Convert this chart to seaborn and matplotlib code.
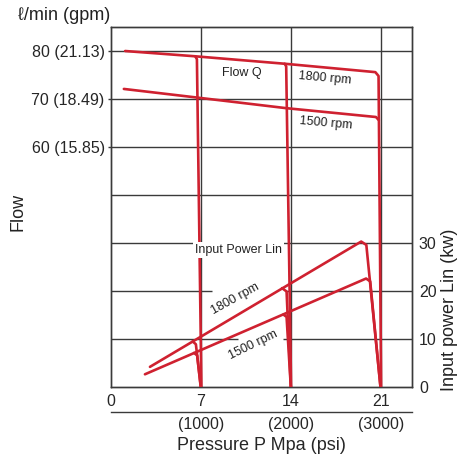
import matplotlib
matplotlib.use("Agg")
import pandas as pd
import matplotlib.pyplot as plt
import seaborn as sns

# Flow curves: pressure (MPa) vs flow (l/min)
q1800_p = [1.1, 6.55, 13.5, 20.55, 20.8, 21.0]
q1800_q = [80.0, 78.9, 77.35, 75.6, 74.8, 10.0]
q1500_p = [1.0, 6.7, 13.6, 20.6, 20.82]
q1500_q = [72.1, 70.3, 68.1, 66.25, 65.6]
q1800_cut7_p = [6.55, 6.68, 7.03]
q1800_cut7_q = [78.9, 78.3, 10.0]
q1800_cut14_p = [13.5, 13.62, 14.0]
q1800_cut14_q = [77.35, 76.8, 10.0]

# Input power curves: pressure (MPa) vs power (kW)
w1800_p = [3.03, 19.45, 19.85, 20.95]
w1800_w = [4.2, 30.3, 29.6, 0.0]
w1500_p = [2.64, 19.83, 20.15, 20.95]
w1500_w = [2.65, 22.6, 22.0, 0.0]
w1800_cut7_p = [6.35, 6.6, 6.98]
w1800_cut7_w = [9.5, 8.9, 0.0]
w1500_cut7_p = [6.45, 6.7, 6.98]
w1500_cut7_w = [7.1, 6.6, 0.0]
w1800_cut14_p = [13.3, 13.65, 13.98]
w1800_cut14_w = [20.6, 19.9, 0.0]
w1500_cut14_p = [13.4, 13.65, 13.98]
w1500_cut14_w = [15.1, 14.6, 0.0]

flow_ticks = [60, 70, 80]
flow_labels = ['60 (15.85)', '70 (18.49)', '80 (21.13)']
power_ticks = [0, 10, 20, 30]
mpa_ticks = [0, 7, 14, 21]
psi_ticks = [7, 14, 21]
psi_labels = ['(1000)', '(2000)', '(3000)']

RED = '#cf2130'
GRID = '#3a3a3a'


def to_long(curves):
    rows = []
    for name, xs, ys in curves:
        for x, y in zip(xs, ys):
            rows.append({'curve': name, 'pressure': x, 'value': y})
    return pd.DataFrame(rows)


flow_df = to_long([
    ('q1800', q1800_p, q1800_q),
    ('q1500', q1500_p, q1500_q),
    ('q1800_7', q1800_cut7_p, q1800_cut7_q),
    ('q1800_14', q1800_cut14_p, q1800_cut14_q),
])
power_df = to_long([
    ('w1800', w1800_p, w1800_w),
    ('w1500', w1500_p, w1500_w),
    ('w1800_7', w1800_cut7_p, w1800_cut7_w),
    ('w1500_7', w1500_cut7_p, w1500_cut7_w),
    ('w1800_14', w1800_cut14_p, w1800_cut14_w),
    ('w1500_14', w1500_cut14_p, w1500_cut14_w),
])

sns.set_style('white')
plt.rcParams['font.family'] = ['Liberation Sans', 'DejaVu Sans']
plt.rcParams['text.color'] = '#222222'

fig = plt.figure(figsize=(4.59, 4.61), dpi=100)
ax = fig.add_axes([0.2418, 0.1605, 0.6558, 0.7809])
xmax = 23.4

# grid: horizontal segments, some with gaps for the rpm labels
ax.hlines([40, 50, 60, 70, 80], 0, xmax, color=GRID, lw=1.0, zorder=1)
ax.hlines([20, 20], [0, 13.38], [9.88, xmax], color=GRID, lw=1.0, zorder=1)
ax.hlines([30, 30], [0, 13.53], [7.86, xmax], color=GRID, lw=1.0, zorder=1)
ax.vlines([7, 14, 21], 10, 85, color=GRID, lw=1.0, zorder=1)

sns.lineplot(data=flow_df, x='pressure', y='value', units='curve', estimator=None,
             sort=False, color=RED, lw=1.9, legend=False, ax=ax, zorder=3)

ax.set_xlim(0, xmax)
ax.set_ylim(10, 85)
ax.set_xticks(mpa_ticks)
ax.set_xticklabels([str(t) for t in mpa_ticks])
ax.set_yticks(flow_ticks)
ax.set_yticklabels(flow_labels)
ax.set_xlabel('')
ax.set_ylabel('')
ax.tick_params(axis='y', length=2.5, width=1, color=GRID, pad=2, labelsize=11.5)
ax.tick_params(axis='x', length=0, pad=5, labelsize=11.5)
for s in ax.spines.values():
    s.set_color(GRID)
    s.set_linewidth(1.0)

ax.text(10.2, 75.5, 'Flow Q', fontsize=9, ha='center', va='center')
ax.text(16.6, 74.4, '1800 rpm', fontsize=9, ha='center', va='center', rotation=-5)
ax.text(16.7, 64.85, '1500 rpm', fontsize=9, ha='center', va='center', rotation=-5)

# power axis on the right
ax2 = ax.twinx()
sns.lineplot(data=power_df, x='pressure', y='value', units='curve', estimator=None,
             sort=False, color=RED, lw=1.9, legend=False, ax=ax2, zorder=3)
ax2.set_ylim(0, 75)
ax2.set_yticks(power_ticks)
ax2.set_ylabel('')
ax2.set_xlabel('')
ax2.tick_params(axis='y', length=0, pad=5, labelsize=11.5)
for s in ax2.spines.values():
    s.set_color(GRID)
    s.set_linewidth(1.0)

ax2.text(9.9, 28.5, 'Input Power Lin', fontsize=9, ha='center', va='center', zorder=5,
         bbox=dict(boxstyle='square,pad=0.15', fc='white', ec='none'))
ax2.text(9.68, 18.3, '1800 rpm', fontsize=9, ha='center', va='center', rotation=29)
ax2.text(11.05, 8.7, '1500 rpm', fontsize=9, ha='center', va='center', rotation=26)

# psi scale under the MPa scale
sec = ax.secondary_xaxis(-0.0686)
sec.set_xticks(psi_ticks)
sec.set_xticklabels(psi_labels)
sec.tick_params(length=0, pad=3.5, labelsize=11.5)
sec.spines['bottom'].set_color(GRID)
sec.spines['bottom'].set_linewidth(1.0)
sec.set_xlabel('Pressure P Mpa (psi)', fontsize=13, labelpad=4)

fig.text(18 / 459, 1 - 15 / 461, '\u2113/min (gpm)', fontsize=13, ha='left', va='center')
fig.text(18 / 459, 1 - 212 / 461, 'Flow', fontsize=13, rotation=90, ha='center', va='center')
fig.text(457.5 / 459, 1 - 310 / 461, 'Input power Lin (kw)', fontsize=13, rotation=90,
         ha='right', va='center')

fig.savefig('out.png', dpi=100)
